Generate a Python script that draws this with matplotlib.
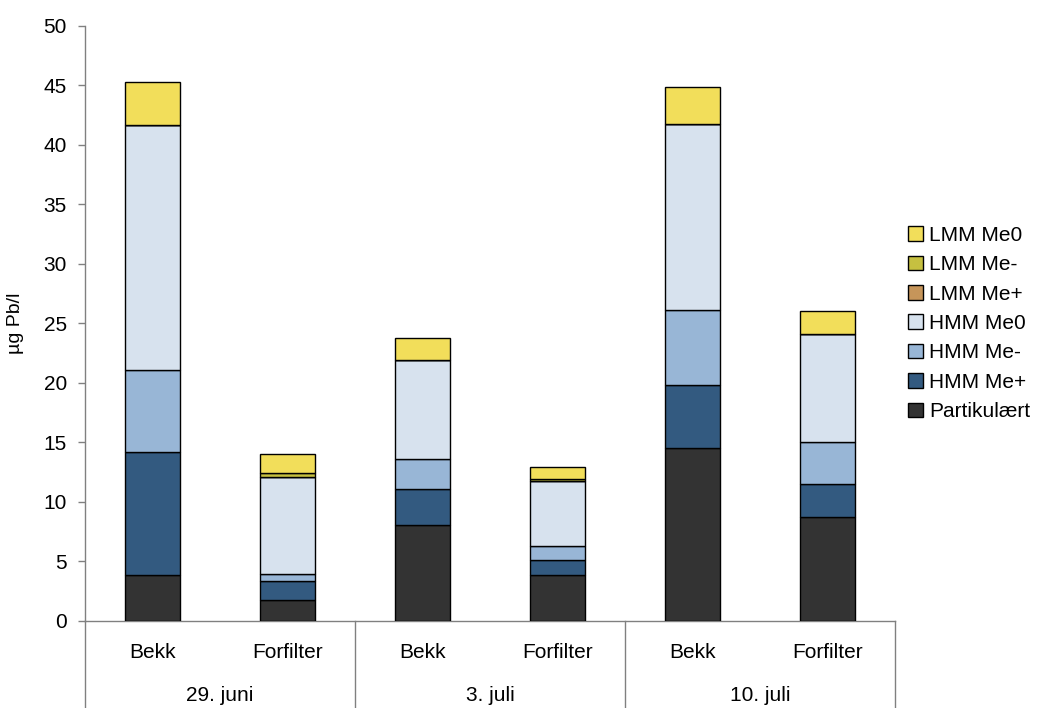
import matplotlib
matplotlib.use("Agg")
import matplotlib.pyplot as plt
from matplotlib.transforms import blended_transform_factory
import numpy as np

plt.rcParams['font.family'] = ['Liberation Sans', 'DejaVu Sans']

# Sampling dates and sampling points
dates = ["29. juni", "3. juli", "10. juli"]
sites = ["Bekk", "Forfilter", "Bekk", "Forfilter", "Bekk", "Forfilter"]

# Lead fractions (µg Pb/l), stacked bottom to top
partikulaert = [3.9, 1.75, 8.1, 3.85, 14.5, 8.75]
hmm_me_plus = [10.3, 1.6, 3.0, 1.25, 5.3, 2.8]
hmm_me_minus = [6.9, 0.6, 2.5, 1.2, 6.3, 3.5]
hmm_me0 = [20.6, 8.15, 8.3, 5.5, 15.7, 9.1]
lmm_me_plus = [0.0, 0.0, 0.0, 0.0, 0.0, 0.0]
lmm_me_minus = [0.0, 0.35, 0.0, 0.1, 0.0, 0.0]
lmm_me0 = [3.6, 1.55, 1.9, 1.0, 3.1, 1.9]

series = [
    ("Partikulært", partikulaert, "#333333"),
    ("HMM Me+", hmm_me_plus, "#335a80"),
    ("HMM Me-", hmm_me_minus, "#98b6d6"),
    ("HMM Me0", hmm_me0, "#d7e2ee"),
    ("LMM Me+", lmm_me_plus, "#c6955a"),
    ("LMM Me-", lmm_me_minus, "#c6c040"),
    ("LMM Me0", lmm_me0, "#f2de5a"),
]

axis_grey = "#808080"

fig = plt.figure(figsize=(10.4, 7.08), dpi=100)
ax = fig.add_axes([0.0817, 0.1229, 0.7789, 0.8404])

x = np.arange(len(sites))
bottom = np.zeros(len(sites))
handles = []
for name, vals, color in series:
    vals = np.array(vals)
    b = ax.bar(x, vals, width=0.41, bottom=bottom, color=color,
               edgecolor="black", linewidth=1.0, label=name, zorder=3)
    bottom += vals
    handles.append(b)

ax.set_xlim(-0.5, 5.5)
ax.set_ylim(0, 50)
ax.set_yticks(np.arange(0, 51, 5))
ax.tick_params(axis="y", labelsize=15, length=5, width=1.0, direction="out",
               pad=8, color=axis_grey)
ax.set_xticks([])
for s in ("top", "right"):
    ax.spines[s].set_visible(False)
for s in ("left", "bottom"):
    ax.spines[s].set_linewidth(1.0)
    ax.spines[s].set_color(axis_grey)

ax.set_ylabel("µg Pb/l", fontsize=14)
ax.yaxis.set_label_coords(-0.075, 0.5)

# Two-level category axis
tr = blended_transform_factory(ax.transData, fig.transFigure)
y0 = 0.1229
for xs in [-0.5, 1.5, 3.5, 5.5]:
    ax.plot([xs, xs], [y0, 0.0], transform=tr, color=axis_grey,
            linewidth=1.0, clip_on=False)
for xi, s in zip(x, sites):
    ax.text(xi, 0.078, s, transform=tr, ha="center", va="center", fontsize=15)
for i, d in enumerate(dates):
    ax.text(2 * i + 0.5, 0.018, d, transform=tr, ha="center", va="center",
            fontsize=15)

leg = ax.legend(handles=handles[::-1], loc="center left",
                bbox_to_anchor=(1.006, 0.5), frameon=False, fontsize=15,
                handlelength=0.7, handleheight=0.7, handletextpad=0.3,
                labelspacing=0.5, borderaxespad=0.0)

fig.savefig("out.png", dpi=100)
